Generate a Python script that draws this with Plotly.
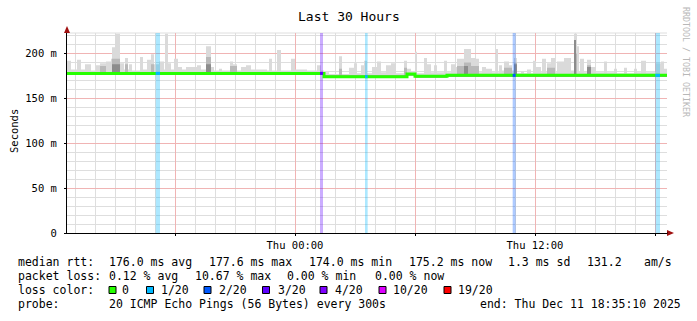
import plotly.graph_objects as go

# ---------------- data ----------------
title = "Last 30 Hours"
y_label = "Seconds"
watermark = "RRDTOOL / TOBI OETIKER"

# time axis: minutes relative to Thu 00:00
x_start, x_end = -684, 1116
y_top = 222.8

xtick_vals = [-360, 0, 360, 720, 1080]
xtick_text = ["", "Thu 00:00", "", "Thu 12:00", ""]
ytick_vals = [0, 50, 100, 150, 200]
ytick_text = ["0", "50 m", "100 m", "150 m", "200 m"]
x_minor_vals = [-660, -600, -540, -480, -420, -300, -240, -180, -120, -60, 60, 120, 180, 240, 300,
                420, 480, 540, 600, 660, 780, 840, 900, 960, 1020, 1080]
y_minor_vals = [10, 20, 30, 40, 60, 70, 80, 90, 110, 120, 130, 140, 160, 170, 180, 190, 210, 220]

# median rtt (ms), step series
median_t = [-684, 87, 336, 360, 456]
median_ms = [177.8, 174.2, 177.0, 174.6, 175.6]

# smoke: maximum of the pings (ms), step series
smoke_t = [-684, -672, -654, -642, -630, -612, -597, -585, -567, -552, -549, -540, -525, -513,
           -510, -501, -498, -489, -465, -456, -444, -432, -423, -408, -393, -390, -381, -372,
           -363, -351, -339, -327, -294, -282, -267, -252, -243, -228, -219, -195, -186, -174,
           -162, -147, -132, -84, -78, -69, -54, -42, -12, 0, 36, 66, 78, 87, 102, 132, 141,
           162, 177, 186, 198, 207, 216, 231, 246, 258, 273, 288, 303, 327, 336, 348, 360, 366,
           387, 396, 408, 417, 426, 447, 456, 468, 483, 486, 507, 528, 543, 552, 561, 573, 591,
           603, 609, 612, 621, 627, 642, 651, 657, 666, 678, 687, 696, 708, 714, 723, 738, 741,
           753, 756, 768, 780, 786, 807, 828, 837, 846, 852, 855, 867, 876, 888, 903, 927, 936,
           957, 966, 987, 996, 1017, 1026, 1038, 1053, 1083, 1098, 1107]
smoke_hi = [192, 182, 193, 182, 188, 181, 187, 189, 191, 194, 207, 222, 189, 182,
            195, 182, 188, 181, 196, 182, 193, 199, 188, 191, 182, 222, 189, 182,
            194, 185, 182, 185, 187, 182, 208, 185, 181, 183, 181, 191, 188, 181,
            185, 187, 182, 181, 194, 181, 204, 181, 194, 182, 181, 187, 181, 179, 177, 197, 177,
            184, 189, 178, 187, 192, 178, 185, 191, 179, 187, 189, 178, 192, 183, 179, 202, 178,
            195, 188, 179, 187, 179, 192, 179, 188, 185, 194, 205, 195, 194, 179, 185, 183, 179,
            205, 179, 187, 181, 191, 187, 181, 195, 178, 180, 178, 182, 178, 192, 185, 179, 194,
            179, 189, 195, 179, 191, 195, 181, 222, 208, 180, 194, 179, 193, 185, 179, 191, 179,
            183, 178, 184, 178, 183, 179, 192, 179, 189, 191, 183]

# smoke: denser (darker) part of the pings (ms), step series
mid_t = [-684, -585, -567, -549, -525, -510, -501, -432, -423, -267, -252, -195, -174, 87,
         132, 141, 327, 336, 360, 456, 486, 507, 528, 552, 627, 651, 657, 666, 756, 780, 837,
         846, 876, 888]
mid_ms = [179, 186, 179, 194, 179, 188, 179, 188, 179, 196, 179, 186, 179, 175.5,
          183, 175.5, 184, 178, 176, 177, 186, 190, 186, 177, 184, 177, 190, 177, 184, 177, 200,
          177, 187, 177]

dark_t = [-684, -549, -525, -267, -252, 87, 336, 360, 456, 507, 519, 657, 666, 837, 843, 876, 888]
dark_ms = [179, 188, 179, 188, 179, 175.5, 178, 176, 177, 186, 177, 188, 177, 215, 177, 185, 177]

# packet loss events (minutes) and number of lost pings out of 20
loss_start = [-418, 75, 210, 653, 1081]
loss_end = [-405, 84, 218, 662, 1095]
loss_count = [1, 3, 1, 2, 1]

loss_levels = [0, 1, 2, 3, 4, 10, 19]
loss_labels = ["0", "1/20", "2/20", "3/20", "4/20", "10/20", "19/20"]
loss_colors = ["#26ff00", "#00b8ff", "#0059ff", "#5e00ff", "#7e00ff", "#dd00ff", "#ff0000"]

legend_rows = [
    ["median rtt:", "176.0 ms avg", "177.6 ms max", "174.0 ms min", "175.2 ms now", "1.3 ms sd",
     "131.2", "am/s"],
    ["packet loss:", "0.12 % avg", "10.67 % max", "0.00 % min", "0.00 % now"],
    ["loss color:"],
    ["probe:", "20 ICMP Echo Pings (56 Bytes) every 300s", "end: Thu Dec 11 18:35:10 2025"],
]

# ---------------- layout geometry (pixels) ----------------
W, H = 697, 321
PL, PR, PT, PB = 67, 667, 33, 233
MONO = "DejaVu Sans Mono"
LEG_SIZE = 11.5


def px(xp):
    return (xp - PL) / (PR - PL)


def py(yp):
    return (PB - yp) / (PB - PT)


def step(ts, vs):
    return list(ts) + [x_end], list(vs) + [vs[-1]]


def color_for(count):
    c = loss_colors[0]
    for lv, col in zip(loss_levels, loss_colors):
        if count >= lv:
            c = col
    return c


def rgba(hexc, a):
    h = hexc.lstrip("#")
    r, g, b = int(h[0:2], 16), int(h[2:4], 16), int(h[4:6], 16)
    return f"rgba({r},{g},{b},{a})"


def median_at(t):
    v = median_ms[0]
    for mt, mv in zip(median_t, median_ms):
        if t >= mt:
            v = mv
    return v


fig = go.Figure()

bx, by = step(median_t, median_ms)
for ts, vs, col in [(smoke_t, smoke_hi, "#dadada"), (mid_t, mid_ms, "#b9b9b9"), (dark_t, dark_ms, "#8c8c8c")]:
    fig.add_trace(go.Scatter(x=bx, y=[v - 1.5 for v in by], mode="lines", line=dict(width=0, shape="hv"),
                             hoverinfo="skip", showlegend=False))
    sx, sy = step(ts, vs)
    fig.add_trace(go.Scatter(x=sx, y=sy, mode="lines", line=dict(width=0, shape="hv"), fill="tonexty",
                             fillcolor=col, hoverinfo="skip", showlegend=False))

# loss bands
for s, e, c in zip(loss_start, loss_end, loss_count):
    fig.add_trace(go.Scatter(x=[s, s, e, e, s], y=[0, y_top, y_top, 0, 0], mode="lines", fill="toself",
                             fillcolor=rgba(color_for(c), 0.32), line=dict(width=0),
                             hoverinfo="skip", showlegend=False))

# median line
fig.add_trace(go.Scatter(x=bx, y=by, mode="lines", line=dict(color=loss_colors[0], width=3, shape="hv"),
                         hoverinfo="skip", showlegend=False))
for s, e, c in zip(loss_start, loss_end, loss_count):
    m = median_at(s)
    fig.add_trace(go.Scatter(x=[s, e], y=[m, m], mode="lines", line=dict(color=color_for(c), width=3),
                             hoverinfo="skip", showlegend=False))

annotations = []


def ann(text, xp, yp, size, xanchor="left", color="#000000", angle=0):
    annotations.append(dict(text=text, x=px(xp), y=py(yp), xref="paper", yref="paper", showarrow=False,
                            xanchor=xanchor, yanchor="middle", textangle=angle,
                            font=dict(family=MONO, size=size, color=color)))


ann(title, 349, 16, 13, xanchor="center")
ann(y_label, 14, 131, 10.5, xanchor="center", angle=-90)
ann(watermark, 686, 62, 8.3, xanchor="center", color="#b8b8b8", angle=90)

row_y = [262, 276, 290, 304]
row_x = [
    [16, 106.5, 206.5, 306.5, 406.5, 505.5, 585, 641.5],
    [16, 106.5, 192.5, 285, 372.5],
    [16],
    [16, 106.5, 477.5],
]
for texts, xs, yv in zip(legend_rows, row_x, row_y):
    for t, xv in zip(texts, xs):
        ann(t, xv, yv, LEG_SIZE)

shapes = []
sq_x = [109, 146.5, 204, 262.5, 320, 379, 444]
lab_x = [120, 158.5, 216.5, 275.5, 333, 391, 456]
for lab, col, sx, lx in zip(loss_labels, loss_colors, sq_x, lab_x):
    shapes.append(dict(type="rect", xref="paper", yref="paper", x0=px(sx), x1=px(sx + 7),
                       y0=py(286.5), y1=py(293.5), fillcolor=col, line=dict(color="#000000", width=1)))
    ann(lab, lx, row_y[2], LEG_SIZE)

# axis arrows
arrow_col = "#a01010"
shapes.append(dict(type="path", xref="paper", yref="paper", fillcolor=arrow_col, line=dict(width=0),
                   path=f"M {px(64)} {py(33)} L {px(70)} {py(33)} L {px(67)} {py(26)} Z"))
shapes.append(dict(type="path", xref="paper", yref="paper", fillcolor=arrow_col, line=dict(width=0),
                   path=f"M {px(667)} {py(230)} L {px(667)} {py(236)} L {px(674)} {py(233)} Z"))
shapes.append(dict(type="line", xref="paper", yref="paper", x0=px(667), x1=px(668), y0=py(233), y1=py(233),
                   line=dict(color="#000000", width=1)))
# light top border of graph area
shapes.append(dict(type="line", xref="paper", yref="paper", x0=0, x1=1, y0=1, y1=1,
                   line=dict(color="#dedede", width=1), layer="below"))

fig.update_layout(
    width=W, height=H, autosize=False,
    margin=dict(l=PL, r=W - PR, t=PT, b=H - PB, pad=0),
    paper_bgcolor="#ffffff", plot_bgcolor="#ffffff",
    showlegend=False,
    annotations=annotations, shapes=shapes,
    font=dict(family=MONO, size=10.5, color="#000000"),
    xaxis=dict(range=[x_start, x_end], tickmode="array", tickvals=xtick_vals, ticktext=xtick_text,
               showgrid=True, gridcolor="#f0b4b4", gridwidth=1, zeroline=False,
               showline=True, linecolor="#000000", linewidth=1,
               ticks="outside", ticklen=2, tickcolor="#000000",
               tickfont=dict(family=MONO, size=10.5, color="#000000"),
               minor=dict(tickmode="array", tickvals=x_minor_vals, showgrid=True, gridcolor="#dedede",
                          ticks="")),
    yaxis=dict(range=[0, y_top], tickmode="array", tickvals=ytick_vals, ticktext=ytick_text,
               showgrid=True, gridcolor="#f0b4b4", gridwidth=1, zeroline=False,
               showline=True, linecolor="#000000", linewidth=1,
               ticks="outside", ticklen=2, tickcolor="#000000", ticklabelstandoff=5,
               tickfont=dict(family=MONO, size=10.5, color="#000000"),
               minor=dict(tickmode="array", tickvals=y_minor_vals, showgrid=True, gridcolor="#dedede",
                          ticks="")),
)

fig.write_html("out.html")
